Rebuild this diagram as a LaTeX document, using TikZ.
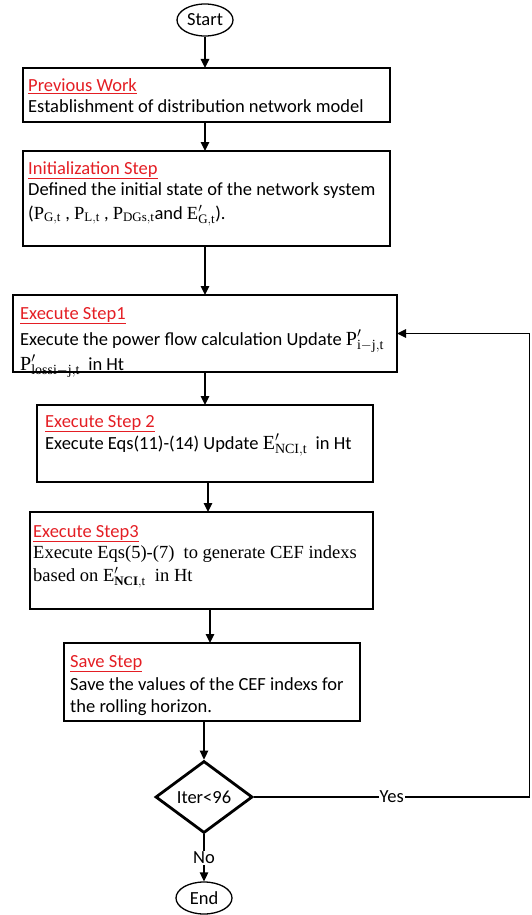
\documentclass[tikz,border=0pt]{standalone}
\usepackage{fix-cm}
\usepackage{fontspec}
\setmainfont{Carlito}
\newfontfamily\tnr{Liberation Serif}
\setmathrm{Liberation Serif}
\usetikzlibrary{shapes.geometric,arrows.meta}
\definecolor{redttl}{RGB}{228,30,36}
\newcommand{\bigmth}[1]{{\fontsize{20}{22}\selectfont$#1$}}
\begin{document}
\fontsize{18.5}{22}\selectfont
\begin{tikzpicture}[x=1pt,y=-1pt,
  box/.style={draw, line width=2.8pt, rectangle, inner sep=0pt, outer sep=0pt, anchor=north west},
  ttl/.style={text=redttl, anchor=base west, inner sep=0pt},
  txt/.style={anchor=base west, inner sep=0pt},
  term/.style={ellipse, draw, line width=1.3pt, minimum width=56pt, minimum height=32pt, inner sep=0pt},
  arr/.style={-{Triangle[length=9pt,width=8.5pt]}, line width=1.3pt},
  lbl/.style={fill=white, inner sep=1pt}]
\useasboundingbox (0,0) rectangle (531,915);

% terminals
\node[term] (s) at (205,20) {Start};
\node[term] (e) at (204,898) {End};

% boxes
\node[box, minimum width=367pt, minimum height=54pt] (b1) at (23,68) {};
\node[box, minimum width=367pt, minimum height=95pt] (b2) at (23,151) {};
\node[box, minimum width=384pt, minimum height=77pt] (b3) at (13,295) {};
\node[box, minimum width=336pt, minimum height=77pt] (b4) at (37,405) {};
\node[box, minimum width=343pt, minimum height=97pt] (b5) at (30,512) {};
\node[box, minimum width=296pt, minimum height=78pt] (b6) at (64,643) {};

% decision
\node[diamond, draw, line width=2.8pt, minimum width=97pt, minimum height=72pt, aspect=1.35, inner sep=0pt] (d) at (204,797) {Iter<96};

% texts
\node[ttl] (t1) at (28,92) {\underline{Previous Work}};
\node[txt] (l1) at (28,113) {Establishment of distribution network model};

\node[ttl] (t2) at (28,174) {\underline{Initialization Step}};
\node[txt] (l2a) at (28,195) {Defined the initial state of the network system};
\node[txt] (l2b) at (28,219) {($\mathrm{P_{G,t}}$ , $\mathrm{P_{L,t}}$ , $\mathrm{P_{DGs,t}}$and $\mathrm{E}'_{\mathrm{G,t}}$).};

\node[ttl] (t3) at (20,319) {\underline{Execute Step1}};
\node[txt] (l3a) at (20,345) {Execute the power flow calculation Update \bigmth{\mathrm{P}'_{\mathrm{i-j,t}}}};
\node[txt] (l3b) at (20,370) {\bigmth{\mathrm{P}'_{\mathrm{lossi-j,t}}}\ \ in Ht};

\node[ttl] (t4) at (45,427) {\underline{Execute Step 2}};
\node[txt] (l4) at (45,449) {Execute Eqs(11)-(14) Update \bigmth{\mathrm{E}'_{\mathrm{NCI,t}}}\ \ in Ht};

\node[ttl] (t5) at (33,537) {\underline{Execute Step3}};
\node[txt, font=\tnr] (l5a) at (33,558) {Execute Eqs(5)-(7)\ \ to generate CEF indexs};
\node[txt, font=\tnr] (l5b) at (33,581) {based on $\mathrm{E}'_{\mathbf{NCI},\mathrm{t}}$\ \ in Ht};

\node[ttl] (t6) at (70,667) {\underline{Save Step}};
\node[txt] (l6a) at (70,690) {Save the values of the CEF indexs for};
\node[txt] (l6b) at (70,712) {the rolling horizon.};

% connectors
\draw[arr] (s.south) -- (s.south |- b1.north);
\draw[arr] (b1.south -| s.south) -- (b2.north -| s.south);
\draw[arr] (b2.south -| s.south) -- (b3.north -| s.south);
\draw[arr] (b3.south -| s.south) -- (b4.north -| s.south);
\draw[arr] ([xshift=3pt]b4.south -| s.south) -- ([xshift=3pt]b5.north -| s.south);
\draw[arr] ([xshift=5pt]b5.south -| s.south) -- ([xshift=5pt]b6.north -| s.south);
\draw[arr] (b6.south -| d.north) -- (d.north);
\draw[arr] (d.south) -- node[lbl] {No} (e.north);
\coordinate (r) at (529.5,333.5);
\draw[arr] (d.east) -- node[lbl] {Yes} (d.east -| r) -- (r) -- (b3.east);
\end{tikzpicture}
\end{document}
